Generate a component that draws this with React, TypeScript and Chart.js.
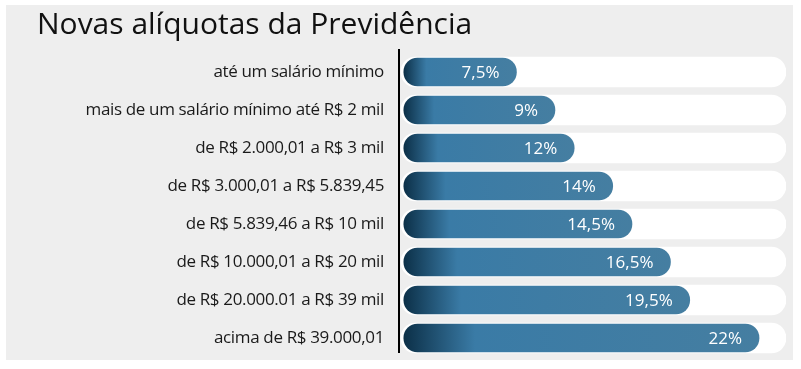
import React, { useEffect, useRef } from 'react';
import { Chart, registerables } from 'chart.js';

Chart.register(...registerables);

const title = 'Novas alíquotas da Previdência';
const categories = [
  'até um salário mínimo',
  'mais de um salário mínimo até R$ 2 mil',
  'de R$ 2.000,01 a R$ 3 mil',
  'de R$ 3.000,01 a R$ 5.839,45',
  'de R$ 5.839,46 a R$ 10 mil',
  'de R$ 10.000,01 a R$ 20 mil',
  'de R$ 20.000.01 a R$ 39 mil',
  'acima de R$ 39.000,01',
];
const rateLabels = ['7,5%', '9%', '12%', '14%', '14,5%', '16,5%', '19,5%', '22%'];
// bar lengths as drawn in the picture (track = 100)
const barLengths = [30, 40, 45, 55, 60, 70, 75, 93];
const trackLength = 100;
const trackValues = categories.map(() => trackLength);

const FONT = '"Open Sans", "Noto Sans", sans-serif';

export default function App() {
  const ref = useRef<HTMLCanvasElement>(null);

  useEffect(() => {
    const canvas = ref.current;
    if (!canvas) return;
    const barBase = 0.75;

    const decor = {
      id: 'decor',
      beforeDraw(chart: any) {
        const { ctx } = chart;
        ctx.save();
        ctx.fillStyle = '#eeeeee';
        ctx.fillRect(6, 5, 787, 355);
        ctx.fillStyle = '#111111';
        ctx.font = `30px ${FONT}`;
        ctx.textAlign = 'left';
        ctx.textBaseline = 'alphabetic';
        ctx.fillText(title, 37, 34);
        ctx.restore();
        (ctx as any).letterSpacing = '-0.35px';
      },
      afterDatasetsDraw(chart: any) {
        const { ctx, chartArea } = chart;
        ctx.save();
        (ctx as any).letterSpacing = '0px';
        ctx.fillStyle = '#000000';
        ctx.fillRect(chartArea.left - 1, chartArea.top - 4, 2, chartArea.bottom - chartArea.top);
        const meta = chart.getDatasetMeta(0);
        ctx.font = `17px ${FONT}`;
        ctx.fillStyle = '#ffffff';
        ctx.textAlign = 'right';
        ctx.textBaseline = 'alphabetic';
        meta.data.forEach((el: any, i: number) => {
          ctx.fillText(rateLabels[i], el.x - 17, el.y + 5.5);
        });
        ctx.restore();
      },
    };

    const chart = new Chart(canvas, {
      type: 'bar',
      data: {
        labels: categories,
        datasets: [
          {
            data: barLengths,
            base: barBase,
            grouped: false,
            barThickness: 28,
            borderRadius: 14,
            borderSkipped: false,
            backgroundColor: (c: any) => {
              const ch = c.chart;
              const xs = ch.scales && ch.scales.x;
              if (c.type !== 'data' || !xs || !ch.chartArea) return '#3a7ba6';
              const x0 = xs.getPixelForValue(barBase);
              const x1 = xs.getPixelForValue(c.raw);
              const g = ch.ctx.createLinearGradient(x0, 0, x1, 0);
              g.addColorStop(0, '#0c3048');
              g.addColorStop(0.2, '#3a7ba6');
              g.addColorStop(1, '#457ea1');
              return g;
            },
          } as any,
          {
            data: trackValues,
            base: 0,
            grouped: false,
            barThickness: 30,
            borderRadius: 15,
            borderSkipped: false,
            backgroundColor: '#ffffff',
          } as any,
        ],
      },
      options: {
        indexAxis: 'y',
        animation: false,
        responsive: false,
        maintainAspectRatio: false,
        layout: { padding: { top: 53, bottom: 12, left: 0, right: 15 } },
        plugins: {
          legend: { display: false },
          tooltip: { enabled: false },
          title: { display: false },
        },
        scales: {
          x: {
            display: false,
            min: -0.5,
            max: trackLength,
          },
          y: {
            grid: { display: false, drawTicks: false },
            border: { display: false },
            ticks: {
              padding: 15,
              color: '#1a1a1a',
              font: { family: FONT, size: 17 },
            },
            afterFit: (scale: any) => {
              scale.width = 399;
              scale.paddingTop = 0;
              scale.paddingBottom = 0;
            },
          },
        },
      } as any,
      plugins: [decor],
    });

    return () => chart.destroy();
  }, []);

  return (
    <div style={{ position: 'fixed', left: 0, top: 0, width: 801, height: 369, background: '#ffffff' }}>
      <canvas ref={ref} width={801} height={369} style={{ display: 'block', width: 801, height: 369 }} />
    </div>
  );
}
